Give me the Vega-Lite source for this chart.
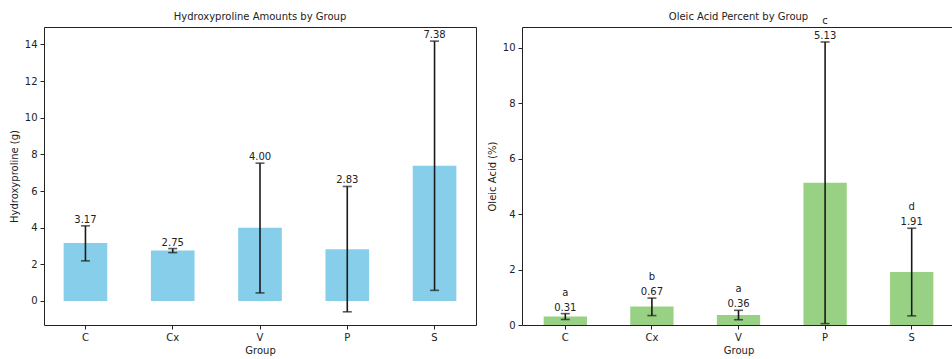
{
  "$schema": "https://vega.github.io/schema/vega-lite/v6.json",
  "background": "white",
  "padding": {"top": 11, "left": 8, "bottom": 2, "right": 0},
  "spacing": 46,
  "bounds": "flush",
  "config": {
    "font": "DejaVu Sans",
    "view": {"stroke": "#222", "strokeWidth": 1},
    "axis": {
      "domain": false,
      "grid": false,
      "tickColor": "#222",
      "tickSize": 4,
      "labelFont": "DejaVu Sans",
      "labelFontSize": 10,
      "labelColor": "#222",
      "labelPadding": 3,
      "titleFont": "DejaVu Sans",
      "titleFontSize": 10,
      "titleFontWeight": "normal",
      "titleColor": "#222",
      "titlePadding": 5
    },
    "title": {"font": "DejaVu Sans", "fontSize": 10, "fontWeight": "normal", "color": "#222", "offset": 6}
  },
  "hconcat": [
    {
      "title": {"text": "Hydroxyproline Amounts by Group", "offset": 5},
      "width": 432,
      "height": 298,
      "data": {"values": [
        {"group": "C", "value": 3.17, "lo": 2.19, "hi": 4.10},
        {"group": "Cx", "value": 2.75, "lo": 2.64, "hi": 2.86},
        {"group": "V", "value": 4.00, "lo": 0.44, "hi": 7.52},
        {"group": "P", "value": 2.83, "lo": -0.59, "hi": 6.25},
        {"group": "S", "value": 7.38, "lo": 0.58, "hi": 14.18}
      ]},
      "encoding": {
        "x": {"field": "group", "type": "nominal", "sort": ["C", "Cx", "V", "P", "S"],
              "scale": {"paddingInner": 0.5, "paddingOuter": 0.225},
              "axis": {"title": "Group", "labelAngle": 0, "titlePadding": 3}}
      },
      "layer": [
        {"mark": {"type": "bar", "color": "#87CEEB"},
         "encoding": {"y": {"field": "value", "type": "quantitative",
           "scale": {"domain": [-1.31, 14.95], "nice": false, "zero": false},
           "axis": {"title": "Hydroxyproline (g)", "values": [0, 2, 4, 6, 8, 10, 12, 14]}}}},
        {"mark": {"type": "rule", "color": "#1a1a1a", "strokeWidth": 1.6},
         "encoding": {"y": {"field": "lo", "type": "quantitative"}, "y2": {"field": "hi"}}},
        {"mark": {"type": "tick", "orient": "horizontal", "color": "#1a1a1a", "size": 9, "thickness": 1.6},
         "encoding": {"y": {"field": "lo", "type": "quantitative"}}},
        {"mark": {"type": "tick", "orient": "horizontal", "color": "#1a1a1a", "size": 9, "thickness": 1.6},
         "encoding": {"y": {"field": "hi", "type": "quantitative"}}},
        {"mark": {"type": "text", "baseline": "bottom", "dy": -1, "fontSize": 10, "color": "#222"},
         "encoding": {"y": {"field": "hi", "type": "quantitative"},
                      "text": {"field": "value", "type": "quantitative", "format": ".2f"}}}
      ]
    },
    {
      "title": {"text": "Oleic Acid Percent by Group", "offset": -6},
      "width": 433,
      "height": 298,
      "data": {"values": [
        {"group": "C", "value": 0.31, "lo": 0.20, "hi": 0.41, "letter": "a"},
        {"group": "Cx", "value": 0.67, "lo": 0.34, "hi": 0.97, "letter": "b"},
        {"group": "V", "value": 0.36, "lo": 0.19, "hi": 0.53, "letter": "a"},
        {"group": "P", "value": 5.13, "lo": 0.05, "hi": 10.21, "letter": "c"},
        {"group": "S", "value": 1.91, "lo": 0.33, "hi": 3.49, "letter": "d"}
      ]},
      "encoding": {
        "x": {"field": "group", "type": "nominal", "sort": ["C", "Cx", "V", "P", "S"],
              "scale": {"paddingInner": 0.5, "paddingOuter": 0.25},
              "axis": {"title": "Group", "labelAngle": 0, "titlePadding": 3}}
      },
      "layer": [
        {"mark": {"type": "bar", "color": "#98D183"},
         "encoding": {"y": {"field": "value", "type": "quantitative",
           "scale": {"domain": [0, 10.75], "nice": false},
           "axis": {"title": "Oleic Acid (%)", "values": [0, 2, 4, 6, 8, 10]}}}},
        {"mark": {"type": "rule", "color": "#1a1a1a", "strokeWidth": 1.6},
         "encoding": {"y": {"field": "lo", "type": "quantitative"}, "y2": {"field": "hi"}}},
        {"mark": {"type": "tick", "orient": "horizontal", "color": "#1a1a1a", "size": 9, "thickness": 1.6},
         "encoding": {"y": {"field": "lo", "type": "quantitative"}}},
        {"mark": {"type": "tick", "orient": "horizontal", "color": "#1a1a1a", "size": 9, "thickness": 1.6},
         "encoding": {"y": {"field": "hi", "type": "quantitative"}}},
        {"mark": {"type": "text", "baseline": "bottom", "dy": -1, "fontSize": 10, "color": "#222"},
         "encoding": {"y": {"field": "hi", "type": "quantitative"},
                      "text": {"field": "value", "type": "quantitative", "format": ".2f"}}},
        {"mark": {"type": "text", "baseline": "bottom", "dy": -16, "fontSize": 10, "color": "#222"},
         "encoding": {"y": {"field": "hi", "type": "quantitative"},
                      "text": {"field": "letter", "type": "nominal"}}}
      ]
    }
  ]
}
